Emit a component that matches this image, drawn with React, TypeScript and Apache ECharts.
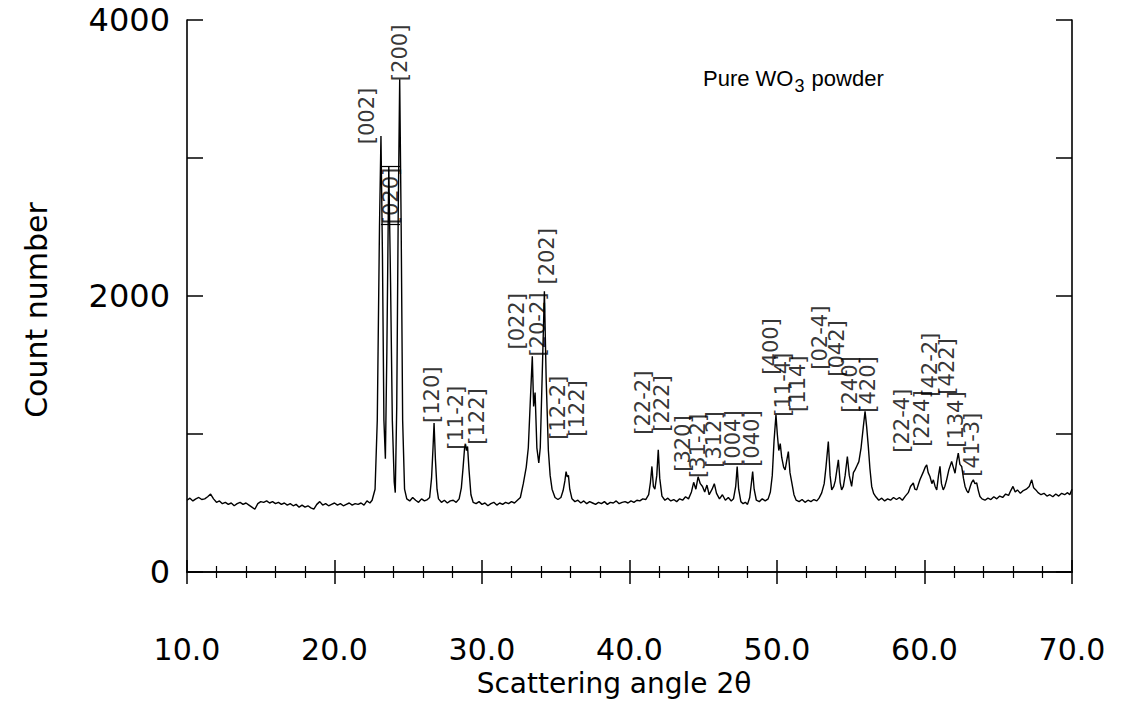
import React, { useEffect, useRef } from 'react';
import * as echarts from 'echarts';

// Scattering angle 2θ (degrees)
const angles = [
  10.0, 10.2, 10.4, 10.6, 10.8, 11.0, 11.2, 11.4, 11.6, 11.8, 12.0, 12.2, 12.4, 12.6, 12.8,
  13.0, 13.2, 13.4, 13.6, 13.8, 14.0, 14.2, 14.4, 14.6, 14.8, 15.0, 15.2, 15.4, 15.6, 15.8,
  16.0, 16.2, 16.4, 16.6, 16.8, 17.0, 17.2, 17.4, 17.6, 17.8, 18.0, 18.2, 18.4, 18.6, 18.8,
  19.0, 19.2, 19.4, 19.6, 19.8, 20.0, 20.2, 20.4, 20.6, 20.8, 21.0, 21.2, 21.4, 21.6, 21.8,
  22.0, 22.2, 22.4, 22.55, 22.75, 22.9, 23.05, 23.15, 23.25, 23.35, 23.45, 23.55, 23.68, 23.8,
  23.92, 24.05, 24.12, 24.22, 24.32, 24.42, 24.52, 24.62, 24.75, 24.9, 25.1, 25.3, 25.5, 25.7,
  25.9, 26.1, 26.3, 26.45, 26.58, 26.68, 26.75, 26.84, 26.95, 27.05, 27.25, 27.45, 27.65, 27.85,
  28.05, 28.25, 28.45, 28.6, 28.72, 28.82, 28.88, 28.95, 29.02, 29.12, 29.25, 29.4, 29.6, 29.8,
  30.0, 30.2, 30.4, 30.6, 30.8, 31.0, 31.2, 31.4, 31.6, 31.8, 32.0, 32.2, 32.4, 32.6, 32.8,
  33.0, 33.14, 33.28, 33.41, 33.5, 33.6, 33.72, 33.85, 33.95, 34.1, 34.23, 34.35, 34.5, 34.62,
  34.75, 34.95, 35.15, 35.35, 35.5, 35.62, 35.7, 35.78, 35.86, 35.95, 36.1, 36.3, 36.5, 36.7,
  36.9, 37.1, 37.3, 37.5, 37.7, 37.9, 38.1, 38.3, 38.5, 38.7, 38.9, 39.1, 39.3, 39.5, 39.7,
  39.9, 40.1, 40.3, 40.5, 40.7, 40.9, 41.1, 41.3, 41.42, 41.52, 41.62, 41.72, 41.85, 41.95,
  42.05, 42.2, 42.4, 42.6, 42.8, 43.0, 43.2, 43.4, 43.6, 43.8, 44.0, 44.2, 44.35, 44.5, 44.65,
  44.8, 44.95, 45.1, 45.25, 45.4, 45.6, 45.75, 45.9, 46.1, 46.3, 46.5, 46.7, 46.9, 47.05, 47.2,
  47.3, 47.4, 47.55, 47.7, 47.85, 48.0, 48.15, 48.27, 48.35, 48.45, 48.6, 48.8, 49.0, 49.2,
  49.4, 49.55, 49.68, 49.8, 49.93, 50.02, 50.12, 50.22, 50.32, 50.45, 50.55, 50.68, 50.77,
  50.88, 51.0, 51.15, 51.3, 51.5, 51.7, 51.9, 52.1, 52.3, 52.5, 52.7, 52.85, 53.03, 53.2,
  53.32, 53.48, 53.6, 53.71, 53.85, 53.95, 54.06, 54.16, 54.28, 54.38, 54.5, 54.62, 54.77,
  54.9, 55.06, 55.18, 55.29, 55.42, 55.55, 55.7, 55.85, 55.97, 56.08, 56.19, 56.3, 56.42,
  56.55, 56.7, 56.9, 57.1, 57.3, 57.5, 57.7, 57.9, 58.1, 58.3, 58.5, 58.7, 58.9, 59.05, 59.24,
  59.35, 59.47, 59.6, 59.69, 59.9, 60.05, 60.15, 60.25, 60.37, 60.5, 60.6, 60.72, 60.83, 60.95,
  61.05, 61.15, 61.27, 61.38, 61.5, 61.65, 61.84, 61.95, 62.07, 62.18, 62.29, 62.4, 62.52,
  62.64, 62.75, 62.86, 62.97, 63.1, 63.2, 63.31, 63.42, 63.54, 63.65, 63.76, 63.9, 64.1, 64.3,
  64.5, 64.7, 64.9, 65.1, 65.3, 65.5, 65.7, 65.85, 66.0, 66.15, 66.3, 66.5, 66.7, 66.9, 67.1,
  67.27, 67.4, 67.55, 67.7, 67.9, 68.1, 68.3, 68.5, 68.7, 68.9, 69.1, 69.3, 69.5, 69.7, 69.85, 70.0,
];

// Count number read at each angle
const counts = [
  520, 535, 515, 530, 540, 525, 530, 545, 565, 530, 505, 515, 495, 505, 490,
  500, 480, 495, 505, 490, 500, 485, 470, 455, 495, 510, 505, 515, 500, 510,
  495, 505, 490, 500, 485, 495, 480, 490, 470, 485, 470, 480, 465, 455, 490,
  510, 485, 495, 480, 490, 500, 485, 495, 480, 490, 500, 485, 495, 490, 500,
  485, 515, 500, 520, 600, 1100, 2500, 3160, 2300, 1100, 820, 1600, 2940, 2100,
  1100, 650, 575, 1200, 2600, 3570, 2500, 1100, 600, 530, 515, 540, 520, 505,
  530, 515, 525, 540, 680, 900, 1080, 820, 600, 530, 505, 520, 500, 515,
  520, 505, 530, 610, 760, 900, 925, 880, 910, 740, 560, 505, 495, 510,
  490, 500, 480, 495, 505, 485, 500, 490, 505, 495, 510, 500, 520, 540, 640,
  760, 900, 1250, 1563, 1200, 1300, 900, 790, 900, 1500, 2035, 1400, 880, 700,
  600, 540, 525, 540, 590, 660, 728, 690, 700, 600, 530, 510, 520, 500,
  515, 495, 510, 500, 490, 505, 495, 510, 490, 505, 500, 515, 495, 505, 510,
  500, 515, 505, 520, 515, 530, 525, 560, 650, 765, 620, 600, 700, 886,
  680, 550, 520, 535, 515, 525, 510, 530, 520, 545, 530, 580, 650, 600, 690,
  640, 620, 580, 630, 560, 600, 640, 570, 530, 560, 520, 540, 515, 530, 620,
  765, 600, 510, 495, 505, 490, 540, 650, 728, 600, 520, 510, 530, 515,
  530, 580, 700, 950, 1140, 1000, 880, 930, 830, 760, 740, 820, 873,
  720, 650, 560, 520, 510, 525, 505, 520, 510, 525, 515, 535, 573, 640,
  760, 946, 700, 595, 620, 660, 740, 813, 650, 595, 620, 700, 837,
  700, 620, 720, 740, 770, 800, 900, 1050, 1164, 1050, 910, 750, 620,
  570, 545, 520, 535, 515, 530, 520, 540, 525, 540, 520, 550, 575, 620, 645,
  600, 595, 640, 668, 720, 760, 777, 720, 692, 640, 668, 620, 595, 700,
  765, 640, 595, 620, 668, 740, 801, 760, 716, 800, 862, 780, 765,
  680, 620, 590, 573, 620, 650, 668, 640, 645, 590, 547, 530, 520, 535,
  525, 545, 530, 550, 540, 565, 555, 590, 620, 580, 595, 570, 590, 600, 620,
  668, 610, 595, 575, 560, 570, 550, 560, 545, 565, 550, 570, 560, 575, 560, 600,
];

// Miller-index peak labels: text, angle of label centre, count at label foot
const hklLabels = [
  '[002]', '[020]', '[200]', '[120]', '[11-2]', '[122]', '[022]', '[20-2]', '[202]', '[12-2]',
  '[122]', '[22-2]', '[222]', '[320]', '[31-2]', '[312]', '[004]', '[040]', '[400]', '[11-4]',
  '[114]', '[02-4]', '[042]', '[240]', '[420]', '[22-4]', '[224]', '[42-2]', '[422]', '[134]', '[41-3]',
];
const hklAngles = [
  22.2, 23.8, 24.44, 26.6, 28.24, 29.66, 32.37, 33.8, 34.4, 35.15,
  36.44, 40.92, 42.2, 43.6, 44.64, 45.73, 47.02, 48.3, 49.6, 50.41,
  51.42, 52.9, 54.1, 54.95, 56.17, 58.47, 59.86, 60.37, 61.53, 62.14, 63.22,
];
const hklCounts = [
  3100, 2520, 3557, 1080, 886, 922, 1612, 1561, 2083, 958,
  980, 995, 1016, 726, 682, 755, 762, 762, 1430, 1125,
  1160, 1466, 1415, 1154, 1154, 864, 907, 1270, 1285, 900, 690,
];

// Box drawn round the [020] label between the 002 and 200 peak lines
const boxAngles = [23.15, 24.44];
const boxCounts = [2940, 2520];

const xTickLabels = ['10.0', '20.0', '30.0', '40.0', '50.0', '60.0', '70.0'];
const yTickLabels = ['0', '', '2000', '', '4000'];

export default function App() {
  const ref = useRef<HTMLDivElement>(null);
  useEffect(() => {
    const chart = echarts.init(ref.current!, null, { renderer: 'svg' });
    const black = '#000';
    const font = 'DejaVu Sans';
    const xBase = {
      type: 'value',
      min: 10,
      max: 70,
      interval: 10,
      axisLine: { show: true, lineStyle: { color: black, width: 1.6 } },
      axisTick: { show: true, inside: true, length: 12, lineStyle: { color: black, width: 1.5 } },
      minorTick: { show: true, splitNumber: 5, length: 6, lineStyle: { color: black, width: 1.2 } },
      splitLine: { show: false },
    };
    const yBase = {
      type: 'value',
      min: 0,
      max: 4000,
      interval: 1000,
      axisLine: { show: true, lineStyle: { color: black, width: 1.6 } },
      axisTick: { show: true, inside: true, length: 16, lineStyle: { color: black, width: 1.5 } },
      splitLine: { show: false },
    };
    chart.setOption({
      animation: false,
      backgroundColor: '#fff',
      grid: { left: 187, right: 49, top: 20, bottom: 129 },
      xAxis: [
        {
          ...xBase,
          position: 'bottom',
          axisLabel: {
            margin: 62,
            color: black,
            fontFamily: font,
            fontSize: 30,
            formatter: (v: number) => xTickLabels[Math.round((v - 10) / 10)] ?? '',
          },
        },
        { ...xBase, position: 'top', axisLabel: { show: false } },
      ],
      yAxis: [
        {
          ...yBase,
          position: 'left',
          axisLabel: {
            margin: 17,
            color: black,
            fontFamily: font,
            fontSize: 32,
            formatter: (v: number) => yTickLabels[Math.round(v / 1000)] ?? '',
          },
        },
        { ...yBase, position: 'right', axisLabel: { show: false } },
      ],
      series: [
        {
          type: 'line',
          data: angles.map((a, i) => [a, counts[i]]),
          showSymbol: false,
          symbol: 'none',
          lineStyle: { color: black, width: 1.4 },
          silent: true,
          z: 2,
          markLine: {
            silent: true,
            symbol: 'none',
            label: { show: false },
            lineStyle: { color: black, width: 1.2, type: 'solid' },
            data: boxCounts.map((c) => [
              { coord: [boxAngles[0], c] },
              { coord: [boxAngles[1], c] },
            ]),
          },
        },
        {
          type: 'scatter',
          data: hklAngles.map((a, i) => [a, hklCounts[i], hklLabels[i]]),
          symbolSize: 1,
          itemStyle: { color: 'rgba(0,0,0,0)' },
          silent: true,
          z: 3,
          label: {
            show: true,
            position: 'inside',
            rotate: 90,
            align: 'left',
            verticalAlign: 'middle',
            color: black,
            fontFamily: font,
            fontSize: 21,
            formatter: (p: any) => p.data[2],
          },
          emphasis: { disabled: true },
        },
      ],
      graphic: [
        {
          type: 'text',
          x: 36,
          y: 310,
          rotation: Math.PI / 2,
          style: {
            text: 'Count number',
            fill: black,
            font: `30px "${font}"`,
            align: 'center',
            verticalAlign: 'middle',
          },
        },
        {
          type: 'text',
          x: 614,
          y: 683,
          style: {
            text: 'Scattering angle 2θ',
            fill: black,
            font: `28px "${font}"`,
            align: 'center',
            verticalAlign: 'middle',
          },
        },
        {
          type: 'text',
          x: 703,
          y: 61,
          style: {
            text: 'Pure WO{s|3} powder',
            fill: black,
            fontFamily: 'Liberation Sans',
            fontSize: 22,
            align: 'left',
            verticalAlign: 'top',
            rich: {
              s: { fontFamily: 'Liberation Sans', fontSize: 18, padding: [16, 1, 0, 1] },
            },
          },
        },
      ],
    });
    return () => chart.dispose();
  }, []);
  return <div ref={ref} style={{ position: 'fixed', left: 0, top: 0, width: 1121, height: 701 }} />;
}
